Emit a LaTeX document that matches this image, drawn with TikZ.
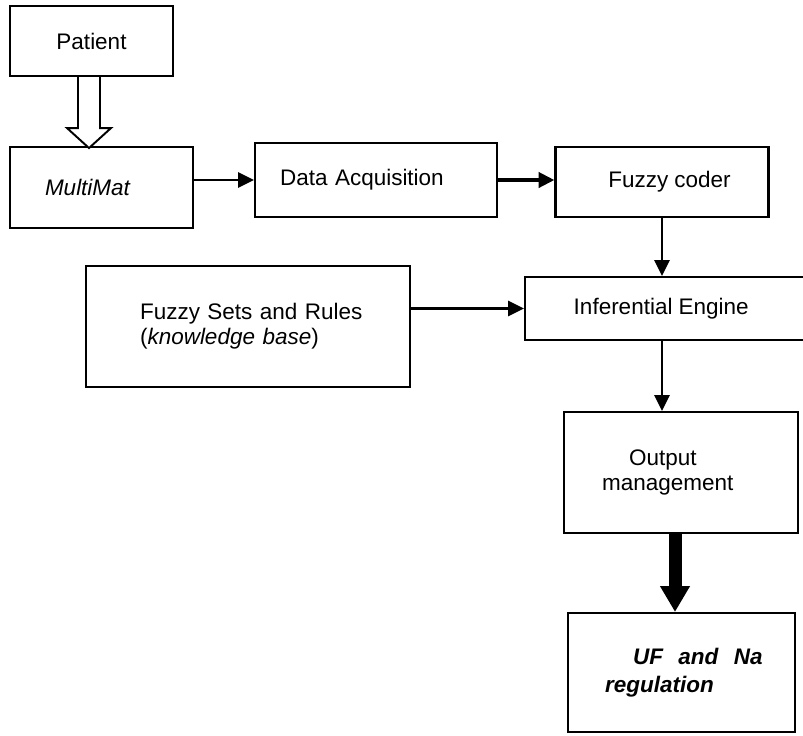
\documentclass[tikz,border=0pt]{standalone}
\usepackage{fontspec}
\setmainfont{Liberation Sans}
\usetikzlibrary{positioning,arrows.meta,calc}

\begin{document}
\begin{tikzpicture}[x=0.02cm,y=-0.02cm,
  box/.style={draw,line width=1.2pt,inner sep=0pt,
    font=\fontsize{12.8}{14.2}\selectfont},
  arr/.style={line width=1.6pt,-{Triangle[length=9pt,width=8.5pt]}},
  boldarr/.style={line width=2.2pt,-{Triangle[length=9pt,width=8.5pt]}},
  fatarr/.style={line width=7.4pt,-{Triangle[length=14.7pt,width=16pt]}},
  hollow/.style={draw,fill=white,line width=1.1pt,line join=miter}]
\useasboundingbox (0,0) rectangle (803,735);
% boxes
\node[box,minimum width=3.26cm,minimum height=1.4cm] (patient) at (91.5,41) {Patient};
\node[box,minimum width=3.66cm,minimum height=1.62cm,text width=2.26cm,align=left]
  (multimat) at (101.5,187.5) {\itshape MultiMat};
\node[box,minimum width=4.84cm,minimum height=1.48cm,text width=3.84cm,align=left]
  (data) at (376,180) {Data Acquisition};
\node[box,minimum width=4.26cm,minimum height=1.4cm] (coder) at (662,182) {\hspace*{0.3cm}Fuzzy coder};
\node[box,minimum width=6.48cm,minimum height=2.42cm,text width=4.32cm,align=left]
  (kb) at (248,326.5) {\mbox{Fuzzy Sets and Rules}\\\mbox{(\textit{knowledge base})}};
\node[box,minimum width=5.7cm,minimum height=1.26cm] (engine) at (667.5,308.5)
  {Inferential Engine\hspace*{0.25cm}};
\node[box,minimum width=4.68cm,minimum height=2.42cm,text width=3.16cm,align=left]
  (output) at (681,472.5) {\hspace*{0.54cm}Output\\management};
\node[box,minimum width=4.54cm,minimum height=2.38cm,text width=3.06cm,align=left,
  font=\fontsize{12.8}{15.9}\selectfont\bfseries\itshape]
  (uf) at (681.5,672.5) {\mbox{\hspace*{0.56cm}UF\hspace{0.16cm} and\hspace{0.16cm} Na}\\regulation};
% connectors
\draw[hollow] ($(patient.south)+(-13.5,0)$) -- ($(patient.south)+(-13.5,51)$)
  -- ($(patient.south)+(-24.5,51)$) -- ($(patient.south)+(-2.5,71)$)
  -- ($(patient.south)+(19.5,51)$) -- ($(patient.south)+(8.5,51)$)
  -- ($(patient.south)+(8.5,0)$);
\draw[arr] (multimat.east |- data.west) -- (data.west);
\draw[boldarr] (data.east) -- (data.east -| coder.west);
\draw[arr] (coder.south) -- (coder.south |- engine.north);
\draw[arr] (kb.east |- engine.west) -- (engine.west);
\draw[arr] (coder.south |- engine.south) -- (coder.south |- output.north);
\path (output.south) ++(-6,0) coordinate (fatbase);
\draw[fatarr] (fatbase) -- (fatbase |- uf.north);
\end{tikzpicture}
\end{document}
